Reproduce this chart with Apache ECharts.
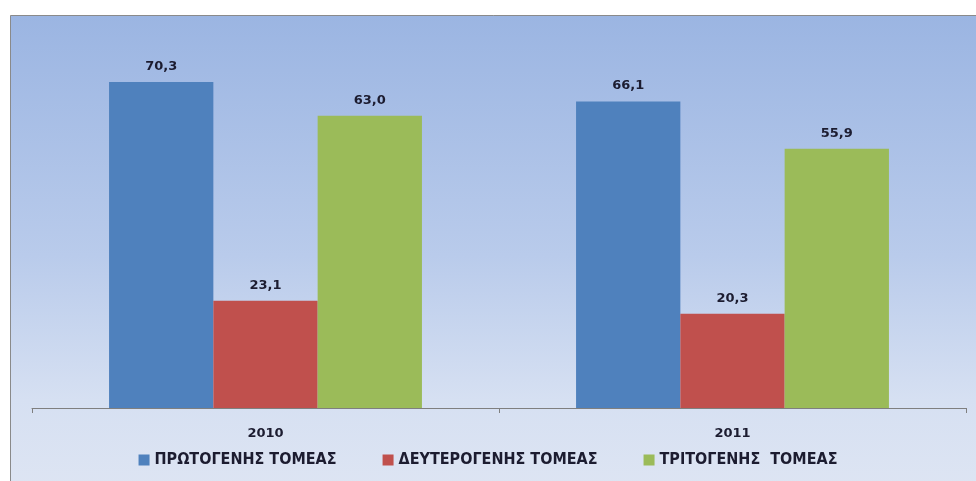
<!DOCTYPE html>
<html>
<head>
<meta charset="utf-8">
<script src="https://cdn.jsdelivr.net/npm/echarts@6/dist/echarts.min.js"></script>
<style>
  html, body { margin: 0; padding: 0; background: #fff; }
  #chart { width: 976px; height: 481px; }
</style>
</head>
<body>
<div id="chart"></div>
<script>
const years = ['2010', '2011'];
const seriesNames = ['ΠΡΩΤΟΓΕΝΗΣ ΤΟΜΕΑΣ', 'ΔΕΥΤΕΡΟΓΕΝΗΣ ΤΟΜΕΑΣ', 'ΤΡΙΤΟΓΕΝΗΣ  ΤΟΜΕΑΣ'];
const primary = [70.3, 66.1];
const secondary = [23.1, 20.3];
const tertiary = [63.0, 55.9];
const colors = ['#4f81bd', '#c0504d', '#9bbb59'];

const font = "'Liberation Sans Narrow', 'DejaVu Sans Condensed', sans-serif";

const myChart = echarts.init(document.getElementById('chart'));

function fmt(p) {
  return p.value.toFixed(1).replace('.', ',');
}

const seriesData = [primary, secondary, tertiary].map((vals, i) => ({
  name: seriesNames[i],
  type: 'bar',
  data: vals,
  barGap: '0%',
  barCategoryGap: '33%',
  itemStyle: { color: colors[i] },
  label: {
    show: true,
    position: 'top',
    distance: 9,
    formatter: fmt,
    color: '#1c1c30',
    fontFamily: 'DejaVu Sans',
    fontSize: 13,
    fontWeight: 'bold'
  }
}));

let option = {
  animation: false,
  graphic: [{
    type: 'rect',
    z: -10,
    shape: { x: 10.5, y: 15.5, width: 980, height: 480 },
    style: {
      fill: new echarts.graphic.LinearGradient(0, 0, 0, 1, [
        { offset: 0, color: '#9bb5e2' },
        { offset: 0.5, color: '#b9cbeb' },
        { offset: 0.8, color: '#d6e0f2' },
        { offset: 1, color: '#dee5f3' }
      ]),
      stroke: '#8a8a8a',
      lineWidth: 1
    }
  }],
  legend: {
    top: 447,
    left: 'center',
    itemWidth: 11,
    itemHeight: 11,
    itemGap: 46,
    icon: 'rect',
    textStyle: {
      fontFamily: font,
      fontSize: 16,
      fontWeight: 'bold',
      color: '#1c1c30'
    },
    data: seriesNames
  },
  grid: {
    left: 32,
    right: 10,
    top: 37,
    bottom: 73
  },
  xAxis: {
    type: 'category',
    data: years,
    axisLine: { lineStyle: { color: '#7f7f7f', width: 1 } },
    axisTick: { show: true, length: 5, lineStyle: { color: '#7f7f7f' } },
    axisLabel: {
      margin: 19,
      fontFamily: 'DejaVu Sans',
      fontSize: 13,
      fontWeight: 'bold',
      color: '#1c1c30'
    }
  },
  yAxis: {
    type: 'value',
    min: 0,
    max: 80,
    show: false,
    splitLine: { show: false }
  },
  series: seriesData
};

myChart.setOption(option);
</script>
</body>
</html>
